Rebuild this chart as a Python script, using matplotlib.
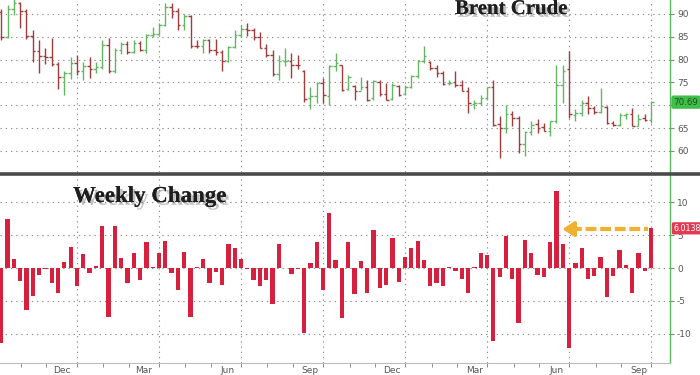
import matplotlib.pyplot as plt
import matplotlib.patheffects as pe
from matplotlib.lines import Line2D

plt.rcParams['axes.unicode_minus'] = False

# weekly Brent crude bars, oldest first
opens = [90.5, 85.0, 91.0, 92.3, 90.6, 85.2, 81.8, 80.8, 80.6, 79.0,
         76.2, 77.0, 79.3, 77.5, 78.6, 78.0, 78.3, 83.2, 77.5, 82.2,
         83.4, 81.6, 83.7, 82.1, 85.4, 85.6, 87.5, 91.5, 90.6, 87.6,
         89.6, 83.0, 82.9, 84.2, 82.1, 81.7, 79.6, 82.7, 85.4, 86.6,
         86.5, 85.0, 82.6, 81.1, 76.8, 79.6, 79.6, 78.9, 77.5, 71.5,
         72.0, 74.9, 72.0, 78.5, 78.8, 73.5, 74.3, 73.1, 74.0, 71.5,
         75.0, 72.5, 71.4, 74.2, 72.5, 74.0, 76.5, 79.8, 79.4, 78.1,
         77.0, 74.8, 75.0, 74.5, 73.2, 70.3, 70.6, 71.7, 74.0, 66.0,
         65.0, 68.0, 67.2, 61.5, 64.1, 65.8, 65.2, 64.3, 66.6, 74.4,
         78.0, 67.8, 68.4, 70.5, 69.3, 68.5, 69.6, 66.2, 65.6, 67.8,
         68.2, 65.5, 67.2, 66.7]
highs = [91.0, 92.0, 93.5, 92.6, 91.0, 86.5, 84.3, 82.5, 84.7, 79.5,
         77.5, 80.5, 81.0, 79.5, 80.5, 79.5, 84.2, 84.8, 82.5, 83.8,
         84.0, 84.2, 84.0, 85.7, 87.2, 88.0, 92.3, 92.5, 91.2, 90.0,
         89.8, 84.3, 84.6, 84.6, 84.6, 82.0, 83.0, 86.4, 87.5, 88.0,
         87.0, 86.0, 83.5, 82.0, 81.0, 82.5, 81.5, 81.0, 77.8, 74.1,
         75.2, 76.0, 78.9, 81.4, 78.9, 76.7, 74.5, 76.3, 75.6, 75.6,
         75.6, 74.9, 74.9, 74.5, 74.5, 76.7, 80.0, 82.9, 79.6, 78.9,
         77.4, 75.6, 77.4, 75.6, 74.1, 71.2, 72.3, 74.1, 75.6, 67.6,
         70.1, 68.7, 67.6, 64.3, 66.5, 66.9, 66.1, 66.5, 78.9, 78.9,
         81.8, 69.1, 71.2, 72.0, 69.8, 73.8, 69.9, 66.5, 68.3, 68.3,
         69.4, 68.0, 68.0, 70.9]
lows = [84.3, 84.8, 89.8, 87.0, 84.6, 79.5, 77.0, 79.0, 78.5, 73.5,
        72.3, 75.8, 76.7, 75.5, 76.0, 77.0, 78.0, 77.0, 77.0, 81.2,
        81.3, 81.4, 81.8, 81.5, 85.0, 85.3, 87.3, 89.2, 86.5, 86.5,
        82.6, 82.6, 81.4, 81.5, 81.0, 77.5, 79.4, 82.5, 85.0, 85.2,
        84.3, 82.5, 80.5, 76.5, 75.5, 78.5, 76.0, 78.0, 70.8, 69.1,
        70.5, 70.5, 70.1, 77.4, 73.1, 73.4, 71.2, 73.4, 70.9, 71.2,
        72.0, 71.2, 71.2, 72.0, 72.3, 73.8, 76.0, 79.2, 77.8, 76.3,
        74.5, 74.5, 74.1, 73.1, 68.3, 69.1, 70.1, 71.2, 65.4, 58.5,
        64.0, 65.4, 59.6, 58.9, 63.6, 64.0, 64.3, 63.2, 66.1, 70.5,
        67.2, 66.5, 67.6, 68.0, 68.0, 68.3, 65.8, 65.4, 65.4, 66.9,
        65.4, 65.4, 66.5, 66.1]
closes = [85.0, 91.0, 92.3, 90.6, 85.2, 81.8, 80.8, 80.6, 79.0, 76.2,
          77.0, 79.3, 77.5, 78.6, 78.0, 78.3, 83.2, 77.5, 82.2, 83.4,
          81.6, 83.7, 82.1, 85.4, 85.6, 87.5, 91.5, 90.6, 87.6, 89.6,
          83.0, 82.9, 84.2, 82.1, 81.7, 79.6, 82.7, 85.4, 86.6, 86.5,
          85.0, 82.6, 81.1, 76.8, 79.6, 79.7, 78.9, 78.8, 71.4, 72.0,
          74.9, 72.2, 78.5, 79.2, 73.3, 76.1, 73.1, 74.0, 71.2, 75.4,
          72.5, 71.2, 74.5, 72.3, 74.0, 76.5, 79.8, 80.7, 78.1, 77.0,
          74.6, 74.9, 74.5, 73.2, 70.5, 70.6, 71.7, 73.9, 65.6, 65.0,
          68.0, 67.2, 61.5, 64.1, 65.6, 65.0, 64.3, 66.6, 74.4, 77.6,
          68.0, 68.4, 70.5, 69.3, 68.5, 69.8, 66.2, 65.6, 67.8, 68.2,
          65.5, 67.0, 66.7, 70.69]

# weekly % change
weekly_change = [-11.3, 7.4, 1.4, -1.9, -6.3, -4.2, -1.1, -0.2, -2.2, -3.8,
                 0.9, 3.2, -2.7, 2.1, -0.7, 0.3, 6.3, -7.5, 6.3, 1.5,
                 -2.3, 2.3, -1.8, 3.9, 0.1, 2.3, 4.1, -0.8, -3.4, 2.5,
                 -7.4, 0.1, 1.3, -2.3, -0.6, -2.5, 3.7, 3.0, 1.3, -0.1,
                 -1.8, -2.8, -1.8, -5.4, 3.6, 0.0, -0.9, -0.2, -9.9, 0.7,
                 4.0, -3.3, 8.4, 1.2, -7.6, 4.0, -3.9, 1.0, -3.8, 5.8,
                 -3.0, -2.6, 4.6, -2.1, 1.6, 3.0, 4.1, 1.2, -2.8, -2.2,
                 -2.7, 0.1, -0.4, -1.7, -3.8, 0.2, 2.2, 1.9, -11.1, -1.3,
                 4.9, -1.6, -8.4, 4.2, 2.3, -1.1, -1.4, 4.0, 11.7, 3.7,
                 -12.1, 0.7, 3.0, -1.6, -1.2, 1.7, -4.4, -1.2, 2.8, 0.5,
                 -3.8, 2.2, -0.4, 6.0138]

# x axis (week index)
quarter_lines = [12, 25, 38, 51, 64, 77, 90, 103]
month_ticks = [3.1, 7.1, 12, 16.2, 20.3, 25, 29.2, 33.3, 38, 42.2, 46.3, 51,
               55.2, 59.3, 64, 68.2, 72.3, 77, 81.2, 85.3, 90, 94.2, 98.3, 103]
label_pos = [9.6, 22.5, 35.8, 48.9, 61.9, 75.0, 88.0, 101.0]
month_labels = ['Dec', 'Mar', 'Jun', 'Sep', 'Dec', 'Mar', 'Jun', 'Sep']

price_ticks = [60, 65, 70, 75, 80, 85, 90]
price_labels = ['60', '65', '', '75', '80', '85', '90']  # 70 sits under the last-price tag
change_ticks = [-10, -5, 0, 5, 10]

up_col = '#62b862'
down_col = '#a23c3c'
bar_col = '#d71f3e'
grid_col = '#8c8c8c'
axis_green = '#5cb85c'
dots = (0, (1.2, 3.5))

fig = plt.figure(figsize=(7, 3.75), dpi=100)
ax1 = fig.add_axes([0, 1 - 172 / 375, 670 / 700, 172 / 375])
ax2 = fig.add_axes([0, 1 - 363 / 375, 670 / 700, 188 / 375])

weeks = list(range(len(closes)))

# OHLC bars
for i in weeks:
    c = up_col if closes[i] >= opens[i] else down_col
    ax1.vlines(i, lows[i], highs[i], color=c, lw=1)
    ax1.hlines(opens[i], i - 0.4, i, color=c, lw=1)
    ax1.hlines(closes[i], i, i + 0.4, color=c, lw=1)

ax2.bar(weeks, weekly_change, width=0.68, color=bar_col, zorder=3)

for ax in (ax1, ax2):
    ax.set_xlim(-0.2, 106)
    for q in quarter_lines:
        ax.axvline(q, color=grid_col, lw=0.8, ls=dots, zorder=0)
    ax.yaxis.tick_right()
    ax.grid(axis='y', color=grid_col, lw=0.8, ls=dots)
    ax.set_axisbelow(True)
    for s in ('top', 'left', 'bottom'):
        ax.spines[s].set_visible(False)
    ax.spines['right'].set_color(axis_green)
    ax.spines['right'].set_linewidth(1)
    ax.tick_params(axis='y', labelsize=6.5, labelcolor='#555555', color='#6a9a6a',
                   length=3, pad=2)

ax1.set_ylim(55.4, 93.05)
ax1.set_yticks(price_ticks)
ax1.set_yticklabels(price_labels)
ax1.set_xticks([])

ax2.set_ylim(-14.4, 14.1)
ax2.set_yticks(change_ticks)
ax2.set_xticks(label_pos)
ax2.set_xticklabels(month_labels)
ax2.set_xticks(month_ticks, minor=True)
ax2.tick_params(axis='x', which='major', length=0, labelsize=6.5,
                labelcolor='#555555', pad=2)
ax2.tick_params(axis='x', which='minor', length=3, color='#777777')
ax2.spines['bottom'].set_visible(True)
ax2.spines['bottom'].set_color('#bbbbbb')
ax2.spines['bottom'].set_linewidth(0.8)

# thick separator between panels
fig.add_artist(Line2D([0, 1], [1 - 173.5 / 375] * 2, color='#4a4a4a', lw=2.6))

# titles with shadow
shadow = [pe.withSimplePatchShadow(offset=(2, -2), shadow_rgbFace='#777777', alpha=0.45),
          pe.Normal()]
fig.text(455 / 700, 1 - 14 / 375, 'Brent Crude', family='Liberation Serif', weight='bold',
         fontsize=15, color='#1e1e1e', va='baseline', ha='left', path_effects=shadow)
fig.text(73 / 700, 1 - 202 / 375, 'Weekly Change', family='Liberation Serif', weight='bold',
         fontsize=16.5, color='#1e1e1e', va='baseline', ha='left', path_effects=shadow)

# last value tags
ax1.annotate('70.69', xy=(1, closes[-1]), xycoords=('axes fraction', 'data'),
             xytext=(2.5, 0), textcoords='offset points', va='center', ha='left',
             fontsize=6.3, color='#1f4f1f', zorder=5,
             bbox=dict(boxstyle='round,pad=0.25', fc='#3fbf4a', ec='none'),
             annotation_clip=False)
ax2.annotate('6.0138', xy=(1, weekly_change[-1]), xycoords=('axes fraction', 'data'),
             xytext=(2.5, 0), textcoords='offset points', va='center', ha='left',
             fontsize=5.8, color='white', zorder=5,
             bbox=dict(boxstyle='round,pad=0.2', fc='#e23a52', ec='none'),
             annotation_clip=False)

# dashed orange arrow pointing back to the June spike
ax2.plot([90.3, 102.5], [5.9, 5.9], color='#f0b030', lw=3, ls=(0, (2.6, 0.9)),
         solid_capstyle='butt', zorder=4)
ax2.annotate('', xy=(88.5, 5.9), xytext=(90.6, 5.9),
             arrowprops=dict(arrowstyle='-|>,head_width=0.45,head_length=0.7',
                             color='#f0b030', lw=2.5), zorder=4)

fig.savefig('out.png', dpi=100)
